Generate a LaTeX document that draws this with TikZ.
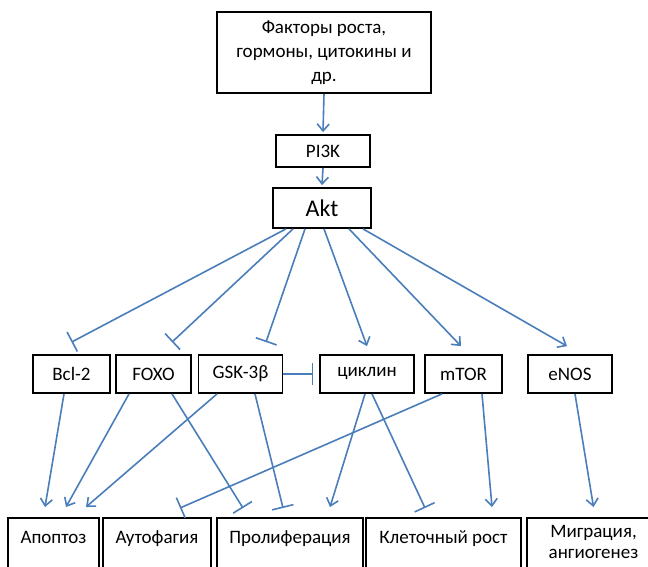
\documentclass[tikz,border=0pt]{standalone}
\usepackage{fontspec}
\setmainfont{Carlito}
\usetikzlibrary{arrows.meta}

\definecolor{linkblue}{RGB}{74,126,187}

\begin{document}
\begin{tikzpicture}[x=1pt, y=-1pt,
    block/.style={draw=black, line width=1.8pt, inner sep=0pt, align=center,
      font=\fontsize{19}{23.5}\selectfont},
    outcome/.style={block, anchor=north, inner ysep=8pt, text height=18pt,
      text depth=60pt},
    act/.style={draw=linkblue, line width=1.6pt,
      -{Straight Barb[length=7pt, width=12pt, line width=1.6pt]}},
    inh/.style={draw=linkblue, line width=1.6pt,
      -{Bar[width=22pt, line width=1.6pt]}}]

  \useasboundingbox (0,0) rectangle (648,566);
  \clip (0,0) rectangle (648,566);

  % Define nodes
  \node[block, minimum width=214pt, minimum height=81pt] (factors) at (324,52.5)
    {Факторы роста,\\[0.5pt]гормоны, цитокины и\\[0.5pt]др.};
  \node[block, minimum width=94pt, minimum height=32pt]  (pik) at (323,151) {PI3K};
  \node[block, minimum width=98pt, minimum height=40pt,
    font=\fontsize{24}{28}\selectfont]                   (akt) at (322,208) {Akt};

  \node[block, minimum width=77pt, minimum height=38pt] (bcl)  at (71.5,374)  {Bcl-2};
  \node[block, minimum width=75pt, minimum height=38pt] (foxo) at (153.5,374) {FOXO};
  \node[block, minimum width=84pt, minimum height=38pt] (gsk)  at (240.5,374) {GSK-3β};
  \node[block, minimum width=94pt, minimum height=38pt] (cyc)  at (367,374)   {циклин};
  \node[block, minimum width=77pt, minimum height=38pt] (mtor) at (463.5,374) {mTOR};
  \node[block, minimum width=84pt, minimum height=38pt] (enos) at (570,374)   {eNOS};

  \node[outcome, minimum width=91pt]  (apo)    at (53.5,517)  {Апоптоз};
  \node[outcome, minimum width=108pt] (auto)   at (157,517)   {Аутофагия};
  \node[outcome, minimum width=146pt] (prolif) at (290,517)   {Пролиферация};
  \node[outcome, minimum width=155pt] (growth) at (443.5,517) {Клеточный рост};
  \node[outcome, minimum width=133pt, text height=33pt, text depth=40pt]
    (migr) at (593.5,517) {Миграция,\\[-2pt]ангиогенез};

  % Connect the nodes
  \draw[act] (factors.south) -- ([yshift=2pt]pik.north);
  \draw[act] (pik.south) -- ([yshift=2pt]akt.north);

  \draw[inh] ([xshift=-36pt]akt.south) -- ([yshift=12pt]bcl.north);
  \draw[inh] ([xshift=-29pt]akt.south) -- ([xshift=18.5pt, yshift=12pt]foxo.north);
  \draw[inh] ([xshift=-17pt]akt.south) -- ([xshift=25.5pt, yshift=12pt]gsk.north);
  \draw[act] ([xshift=2pt]akt.south)   -- ([yshift=8pt]cyc.north);
  \draw[act] ([xshift=27pt]akt.south)  -- ([xshift=-2.5pt, yshift=8pt]mtor.north);
  \draw[act] ([xshift=41pt]akt.south)  -- ([xshift=-3pt, yshift=8pt]enos.north);

  \draw[inh] (gsk.east) -- ([xshift=-6pt]cyc.west);

  \draw[act] ([xshift=-7.5pt]bcl.south)   -- ([xshift=-8.5pt, yshift=10pt]apo.north);
  \draw[act] ([xshift=-24.5pt]foxo.south) -- ([xshift=12.5pt, yshift=10pt]apo.north);
  \draw[inh] ([xshift=18.5pt]foxo.south)  -- ([xshift=-47pt, yshift=9pt]prolif.north);
  \draw[act] ([xshift=-23.5pt]gsk.south)  -- ([xshift=32.5pt, yshift=10pt]apo.north);
  \draw[inh] ([xshift=14.5pt]gsk.south)   -- ([xshift=-7pt, yshift=9pt]prolif.north);
  \draw[act] ([xshift=-2pt]cyc.south)     -- ([xshift=40pt, yshift=10pt]prolif.north);
  \draw[inh] ([xshift=5pt]cyc.south)      -- ([xshift=-18.5pt, yshift=9pt]growth.north);
  \draw[inh] ([xshift=-21.5pt]mtor.south) -- ([xshift=23pt, yshift=9pt]auto.north);
  \draw[act] ([xshift=18.5pt]mtor.south)  -- ([xshift=48.5pt, yshift=10pt]growth.north);
  \draw[act] ([xshift=5pt]enos.south)     -- ([yshift=10pt]migr.north);

\end{tikzpicture}
\end{document}
